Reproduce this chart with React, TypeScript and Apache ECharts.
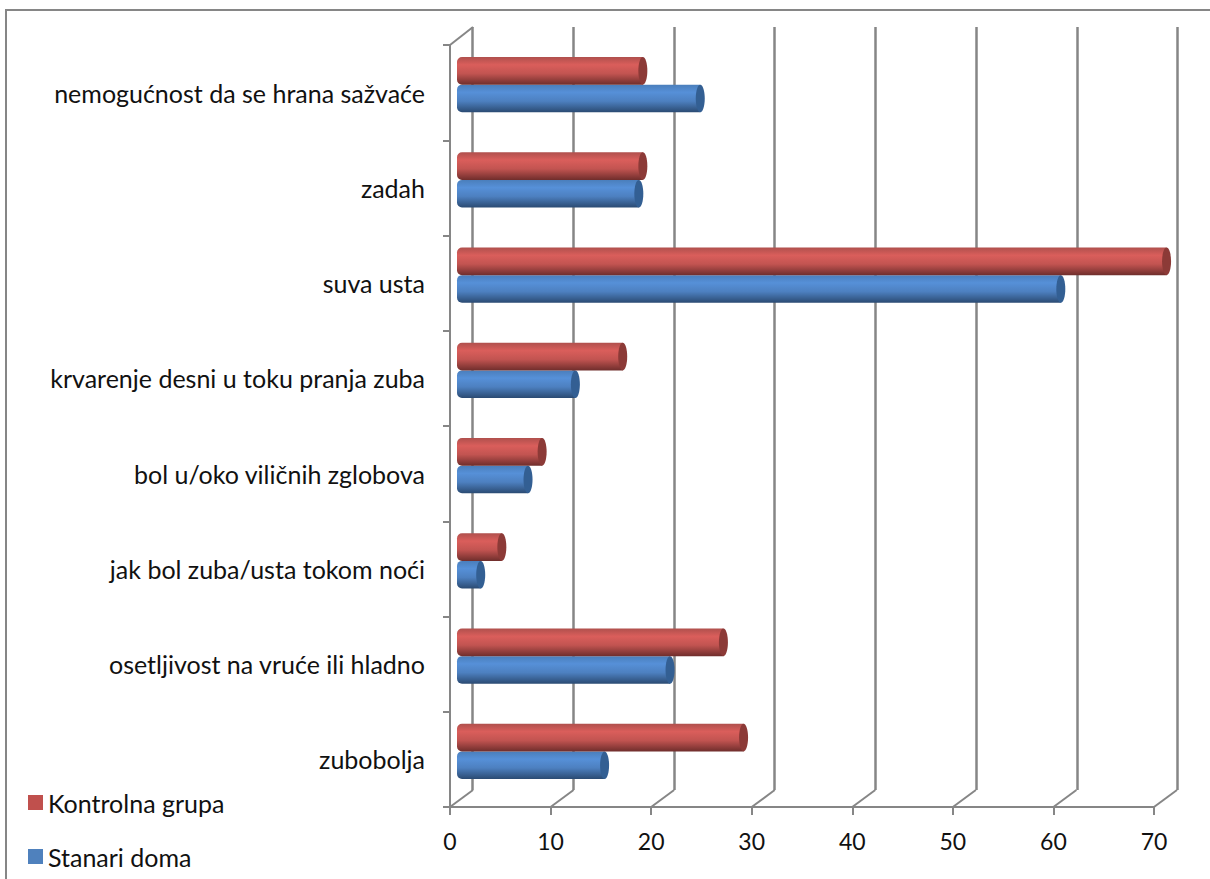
import React, { useEffect, useRef } from "react";
import * as echarts from "echarts";

const categories = [
  "nemogućnost da se hrana sažvaće",
  "zadah",
  "suva usta",
  "krvarenje desni u toku pranja zuba",
  "bol u/oko viličnih zglobova",
  "jak bol zuba/usta tokom noći",
  "osetljivost na vruće ili hladno",
  "zubobolja",
];
const kontrolnaGrupa = [18.9, 18.9, 70.9, 16.9, 8.9, 4.9, 26.9, 28.9];
const stanariDoma = [24.6, 18.5, 60.4, 12.2, 7.5, 2.8, 21.6, 15.1];
const xTicks = [0, 10, 20, 30, 40, 50, 60, 70];

const FONT = "Lato, Carlito, 'Open Sans', sans-serif";
const GRAY = "#868686";
const TEXT = "#111111";

const RED = { top: "#b0504d", bright: "#da5e5b", low: "#c25451", bottom: "#702e2c", cap: "#8c3a37", legend: "#C0504D" };
const BLUE = { top: "#4a7ebb", bright: "#5690d8", low: "#4d80c0", bottom: "#2b4b73", cap: "#335f93", legend: "#4F81BD" };

function cylinder(pal: typeof RED, side: number) {
  return (params: any, api: any) => {
    const value = api.value(0);
    const idx = api.value(1);
    const [x1, yc] = api.coord([value, idx]);
    const [x0] = api.coord([0, idx]);
    const band = api.size([0, 1])[1];
    const h = band * 0.289;
    const top = side < 0 ? yc - h : yc;
    const rx = 4.5;
    const fill = new echarts.graphic.LinearGradient(0, 0, 0, 1, [
      { offset: 0, color: pal.top },
      { offset: 0.28, color: pal.bright },
      { offset: 0.6, color: pal.low },
      { offset: 1, color: pal.bottom },
    ]);
    return {
      type: "group",
      children: [
        {
          type: "rect",
          shape: { x: x0, y: top, width: x1 - x0 - rx, height: h, r: [5, 0, 0, 5] },
          style: { fill },
        },
        {
          type: "ellipse",
          shape: { cx: x1 - rx, cy: top + h / 2, rx, ry: h / 2 },
          style: { fill: pal.cap },
        },
      ],
    };
  };
}

function diagonals(dy: number, atTop: boolean) {
  return (params: any, api: any) => {
    const x = api.coord([api.value(0), 0])[0];
    const cs = params.coordSys;
    const y = atTop ? cs.y : cs.y + cs.height;
    return {
      type: "line",
      shape: { x1: x, y1: y, x2: x + 23, y2: y + dy },
      style: { stroke: GRAY, lineWidth: 2 },
    };
  };
}

export default function App() {
  const ref = useRef<HTMLDivElement>(null);
  useEffect(() => {
    const chart = echarts.init(ref.current!, undefined, { renderer: "svg" });
    const hiddenY = { type: "category", data: categories, inverse: true, show: false };
    chart.setOption({
      animation: false,
      backgroundColor: "#ffffff",
      textStyle: { fontFamily: FONT },
      grid: [
        { left: 450, top: 45, width: 704, height: 762 },
        { left: 457, top: 37, width: 705, height: 762 },
        { left: 472.5, top: 27, width: 705, height: 763 },
      ],
      xAxis: [
        {
          type: "value",
          gridIndex: 0,
          min: 0,
          max: 70,
          interval: 10,
          axisLine: { show: true, lineStyle: { color: GRAY, width: 2 } },
          axisTick: { show: true, length: 8, lineStyle: { color: GRAY, width: 2 } },
          axisLabel: { color: TEXT, fontSize: 23, fontFamily: FONT, margin: 22 },
          splitLine: { show: false },
        },
        { type: "value", gridIndex: 1, min: 0, max: 70, interval: 10, show: false, splitLine: { show: false } },
        {
          type: "value",
          gridIndex: 2,
          min: 0,
          max: 70,
          interval: 10,
          axisLine: { show: false },
          axisTick: { show: false },
          axisLabel: { show: false },
          splitLine: { show: true, lineStyle: { color: GRAY, width: 2.5 } },
        },
      ],
      yAxis: [
        {
          type: "category",
          gridIndex: 0,
          data: categories,
          inverse: true,
          axisLine: { show: true, lineStyle: { color: GRAY, width: 2 } },
          axisTick: { show: true, length: 7, alignWithLabel: false, lineStyle: { color: GRAY, width: 2 } },
          axisLabel: { color: TEXT, fontSize: 25, fontFamily: FONT, margin: 25 },
        },
        { ...hiddenY, gridIndex: 1 },
        { ...hiddenY, gridIndex: 2 },
      ],
      legend: {
        orient: "vertical",
        left: 23,
        top: 785,
        itemWidth: 15,
        itemHeight: 15,
        itemGap: 29,
        itemStyle: { borderWidth: 0 },
        icon: "rect",
        selectedMode: false,
        textStyle: { color: TEXT, fontSize: 25, fontFamily: FONT },
        data: [
          { name: "Kontrolna grupa", itemStyle: { color: RED.legend } },
          { name: "Stanari doma", itemStyle: { color: BLUE.legend } },
        ],
      },
      graphic: [
        {
          type: "polyline",
          shape: { points: [[6, 879], [6, 10], [1210, 10]] },
          style: { stroke: GRAY, lineWidth: 2, fill: "none" },
          silent: true,
        },
      ],
      series: [
        {
          type: "custom",
          name: "bottomDiagonals",
          xAxisIndex: 0,
          yAxisIndex: 0,
          data: xTicks.map((v) => [v, 0]),
          renderItem: diagonals(-17, false),
          silent: true,
          z: 1,
        },
        {
          type: "custom",
          name: "topDiagonal",
          xAxisIndex: 0,
          yAxisIndex: 0,
          data: [[0, 0]],
          renderItem: diagonals(-18, true),
          silent: true,
          z: 1,
        },
        {
          type: "custom",
          name: "Stanari doma",
          xAxisIndex: 1,
          yAxisIndex: 1,
          data: stanariDoma.map((v, i) => [v, i]),
          encode: { x: 0, y: 1 },
          renderItem: cylinder(BLUE, 1),
          itemStyle: { color: BLUE.legend },
          z: 3,
        },
        {
          type: "custom",
          name: "Kontrolna grupa",
          xAxisIndex: 1,
          yAxisIndex: 1,
          data: kontrolnaGrupa.map((v, i) => [v, i]),
          encode: { x: 0, y: 1 },
          renderItem: cylinder(RED, -1),
          itemStyle: { color: RED.legend },
          z: 4,
        },
      ],
    });
    return () => chart.dispose();
  }, []);
  return <div ref={ref} style={{ position: "absolute", left: 0, top: 0, width: 1210, height: 879 }} />;
}
